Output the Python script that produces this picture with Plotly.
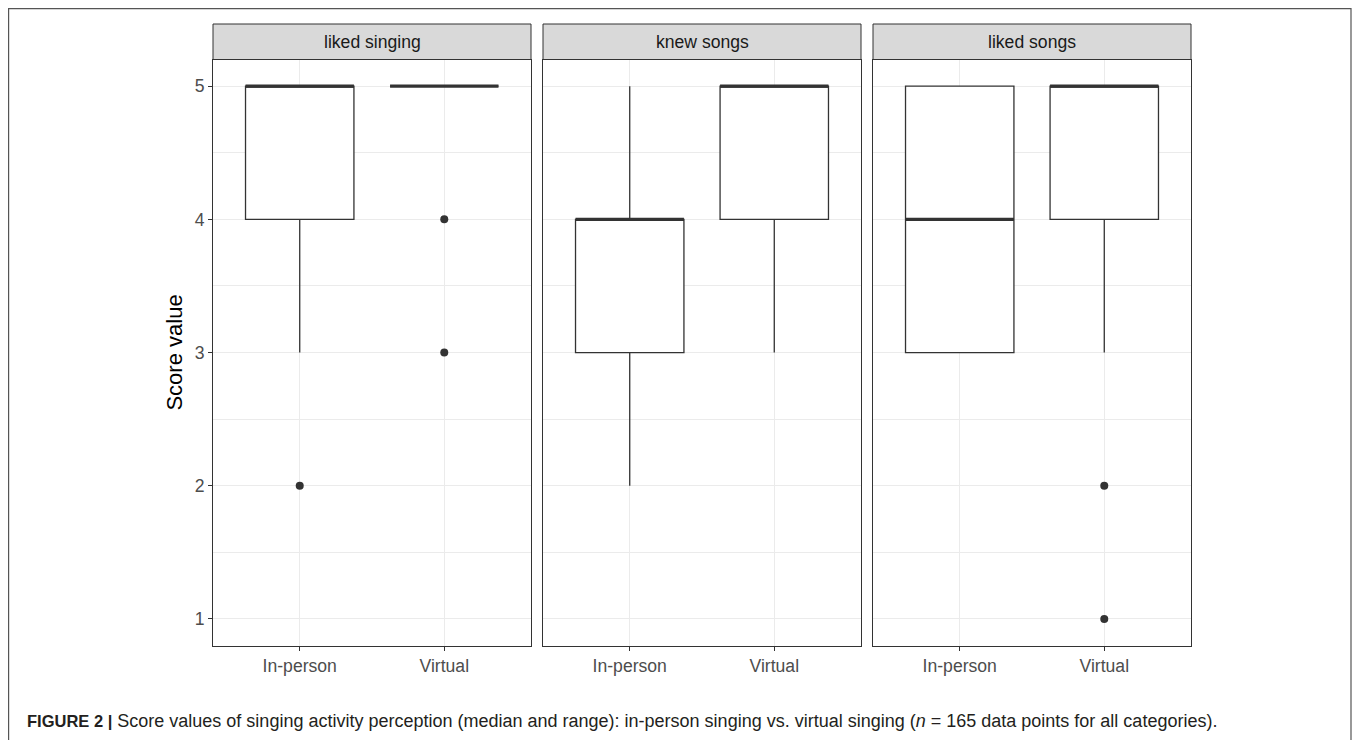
import plotly.graph_objects as go

# page has an 8px body margin, so the figure covers page pixels 8..1360 / 8..740
OFF = 8
W, H = 1360 - OFF, 740 - OFF

categories = ["In-person", "Virtual"]
facets = ["liked singing", "knew songs", "liked songs"]

q1 = [[4, 5], [3, 4], [3, 4]]
median = [[5, 5], [4, 5], [4, 5]]
q3 = [[5, 5], [4, 5], [5, 5]]
lower_whisker = [[3, 5], [2, 3], [3, 3]]
upper_whisker = [[5, 5], [5, 5], [5, 5]]

outlier_x = [["In-person", "Virtual", "Virtual"], [], ["Virtual", "Virtual"]]
outlier_y = [[2, 4, 3], [], [2, 1]]

y_ticks = [1, 2, 3, 4, 5]

caption_bold = "FIGURE 2 |"
caption_text = ("Score values of singing activity perception (median and range): in-person singing "
                "vs. virtual singing (<i>n</i> = 165 data points for all categories).")

# layout geometry (page pixels)
panel_px = [(213, 531), (543, 861), (873, 1191)]
plot_top, plot_bot = 59.5, 645.6
strip_top = 24

def px_x(v):
    return (v - OFF) / W

def px_y(v):
    return 1 - (v - OFF) / H

LINE = "#333333"
GRID = "#EBEBEB"
TICK_SIZE = 17.6

fig = go.Figure()

for i, f in enumerate(facets):
    xa = "x" if i == 0 else f"x{i+1}"
    ya = "y" if i == 0 else f"y{i+1}"
    fig.add_trace(go.Box(
        x=categories, q1=q1[i], median=median[i], q3=q3[i],
        lowerfence=lower_whisker[i], upperfence=upper_whisker[i],
        width=0.75, whiskerwidth=0, boxpoints=False,
        fillcolor="white", line=dict(color=LINE, width=1.3),
        xaxis=xa, yaxis=ya, showlegend=False, hoverinfo="skip"))
    # thick median line (ggplot fatten)
    fig.add_trace(go.Box(
        x=categories, q1=median[i], median=median[i], q3=median[i],
        lowerfence=median[i], upperfence=median[i],
        width=0.75, whiskerwidth=0, boxpoints=False,
        fillcolor="rgba(0,0,0,0)", line=dict(color=LINE, width=3.2),
        xaxis=xa, yaxis=ya, showlegend=False, hoverinfo="skip"))
    if outlier_y[i]:
        fig.add_trace(go.Scatter(
            x=outlier_x[i], y=outlier_y[i], mode="markers",
            marker=dict(color=LINE, size=8),
            xaxis=xa, yaxis=ya, showlegend=False, hoverinfo="skip"))

layout = dict(
    width=W, height=H,
    margin=dict(l=0, r=0, t=0, b=0),
    paper_bgcolor="white", plot_bgcolor="white",
    boxmode="overlay",
    font=dict(family="Liberation Sans, Arial, sans-serif", color="#4D4D4D"),
)

y_dom = [px_y(plot_bot), px_y(plot_top)]
for i in range(3):
    xk = "xaxis" if i == 0 else f"xaxis{i+1}"
    yk = "yaxis" if i == 0 else f"yaxis{i+1}"
    ya = "y" if i == 0 else f"y{i+1}"
    xa = "x" if i == 0 else f"x{i+1}"
    layout[xk] = dict(
        domain=[px_x(panel_px[i][0]), px_x(panel_px[i][1])],
        anchor=ya, type="category", categoryorder="array", categoryarray=categories,
        range=[-0.6, 1.6], showgrid=True, gridcolor=GRID, gridwidth=1.1,
        showline=True, linecolor=LINE, linewidth=1, mirror=True,
        ticks="outside", ticklen=4, tickcolor=LINE, tickwidth=1,
        tickfont=dict(size=TICK_SIZE, color="#4D4D4D"), zeroline=False, fixedrange=True)
    layout[yk] = dict(
        domain=y_dom, anchor=xa, range=[0.8, 5.2],
        tickvals=y_ticks, showgrid=True, gridcolor=GRID, gridwidth=1.1,
        minor=dict(dtick=0.5, tick0=0.5, showgrid=True, gridcolor=GRID, gridwidth=0.6),
        showline=True, linecolor=LINE, linewidth=1, mirror=True,
        ticks="outside" if i == 0 else "", ticklen=4, tickcolor=LINE, tickwidth=1,
        showticklabels=(i == 0),
        tickfont=dict(size=TICK_SIZE, color="#4D4D4D"), zeroline=False, fixedrange=True)
    if i > 0:
        layout[yk]["matches"] = "y"

fig.update_layout(**layout)

shapes = []
annotations = []
for i, f in enumerate(facets):
    x0, x1 = px_x(panel_px[i][0]), px_x(panel_px[i][1])
    shapes.append(dict(type="rect", xref="paper", yref="paper",
                       x0=x0, x1=x1, y0=px_y(plot_top), y1=px_y(strip_top),
                       fillcolor="#D9D9D9", line=dict(color=LINE, width=1), layer="above"))
    annotations.append(dict(xref="paper", yref="paper", x=(x0 + x1) / 2,
                            y=px_y((plot_top + strip_top) / 2), text=f, showarrow=False,
                            xanchor="center", yanchor="middle",
                            font=dict(size=TICK_SIZE, color="#1A1A1A")))

# outer frame (open at the bottom)
shapes.append(dict(type="path", xref="paper", yref="paper",
                   path=f"M {px_x(8.6)},-0.1 L {px_x(8.6)},{px_y(8.6)} L {px_x(1351)},{px_y(8.6)} L {px_x(1351)},-0.1",
                   line=dict(color="#555555", width=1.2)))

annotations.append(dict(xref="paper", yref="paper", x=px_x(175), y=px_y((plot_top + plot_bot) / 2),
                        text="Score value", textangle=-90, showarrow=False,
                        xanchor="center", yanchor="middle",
                        font=dict(size=22, color="#000000")))

annotations.append(dict(xref="paper", yref="paper", x=px_x(25), y=px_y(721),
                        text=f"<span style='font-size:16.5px'><b>{caption_bold}</b></span> {caption_text}",
                        showarrow=False, xanchor="left", yanchor="middle",
                        font=dict(size=18, color="#231F20")))

fig.update_layout(shapes=shapes, annotations=annotations)

fig.write_html("out.html")
